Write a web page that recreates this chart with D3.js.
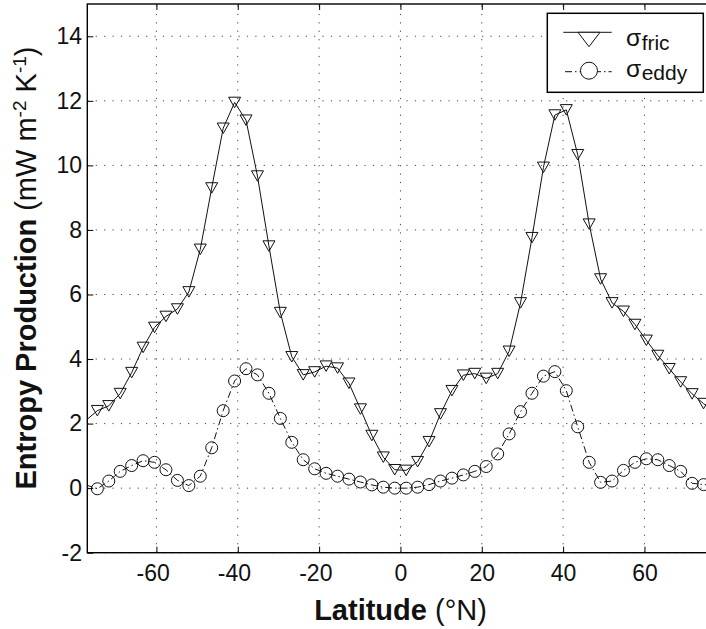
<!DOCTYPE html>
<html>
<head>
<meta charset="utf-8">
<script src="https://cdnjs.cloudflare.com/ajax/libs/d3/7.8.5/d3.min.js"></script>
<style>
  body { margin: 0; background: #fff; }
  svg { display: block; font-family: "Liberation Sans", Arial, Helvetica, sans-serif; }
</style>
</head>
<body>
<div id="chart"></div>
<script>
// latitude grid (deg N) and the two entropy production curves (mW m-2 K-1)
const lats = [-77.34, -74.53, -71.72, -68.91, -66.09, -63.28, -60.47, -57.66, -54.84, -52.03,
              -49.22, -46.41, -43.59, -40.78, -37.97, -35.16, -32.34, -29.53, -26.72, -23.91,
              -21.09, -18.28, -15.47, -12.66, -9.84, -7.03, -4.22, -1.41,
              1.41, 4.22, 7.03, 9.84, 12.66, 15.47, 18.28, 21.09, 23.91, 26.72,
              29.53, 32.34, 35.16, 37.97, 40.78, 43.59, 46.41, 49.22, 52.03, 54.84,
              57.66, 60.47, 63.28, 66.09, 68.91, 71.72, 74.53, 77.34];

const sigmaFric = [2.10, 2.40, 2.55, 2.93, 3.58, 4.36, 4.98, 5.32, 5.55, 6.08,
                   7.40, 9.30, 11.15, 11.95, 11.40, 9.67, 7.50, 5.44, 4.07, 3.51,
                   3.60, 3.78, 3.72, 3.25, 2.45, 1.63, 0.96, 0.57,
                   0.55, 0.82, 1.44, 2.30, 3.02, 3.50, 3.55, 3.40, 3.55, 4.24,
                   5.74, 7.76, 9.94, 11.56, 11.72, 10.33, 8.18, 6.48, 5.74, 5.48,
                   5.07, 4.58, 4.11, 3.70, 3.29, 2.92, 2.62, 2.35];

const sigmaEddy = [0.10, -0.02, 0.22, 0.52, 0.70, 0.85, 0.80, 0.57, 0.24, 0.08,
                   0.37, 1.25, 2.40, 3.32, 3.70, 3.51, 2.94, 2.16, 1.42, 0.88,
                   0.60, 0.46, 0.37, 0.28, 0.19, 0.10, 0.03, 0.00,
                   0.00, 0.03, 0.11, 0.22, 0.31, 0.41, 0.52, 0.67, 1.06, 1.68,
                   2.37, 2.94, 3.47, 3.61, 3.02, 1.90, 0.80, 0.18, 0.22, 0.55,
                   0.80, 0.91, 0.88, 0.70, 0.52, 0.15, 0.11, 0.10];

const xTicks = [-60, -40, -20, 0, 20, 40, 60];
const yTicks = [-2, 0, 2, 4, 6, 8, 10, 12, 14];
const seriesNames = ["fric", "eddy"];

let width = 706, height = 629;
const box = {left: 87.3, top: 4, right: 713.6, bottom: 552.7};

const x = d3.scaleLinear().domain([-77, 77]).range([box.left, box.right]);
const y = d3.scaleLinear().domain([-2, 15]).range([box.bottom, box.top]);

const fricData = lats.map((d, i) => ({lat: d, v: sigmaFric[i]}));
const eddyData = lats.map((d, i) => ({lat: d, v: sigmaEddy[i]}));
const inside = d => d.lat >= -77 && d.lat <= 77;

let svg = d3.select("#chart").append("svg")
    .attr("width", width)
    .attr("height", height);

svg.append("rect").attr("width", width).attr("height", height).attr("fill", "#fff");

svg.append("clipPath").attr("id", "plotclip")
  .append("rect")
    .attr("x", box.left).attr("y", box.top)
    .attr("width", box.right - box.left).attr("height", box.bottom - box.top);

// dotted grid
let grid = svg.append("g").attr("class", "grid")
    .attr("stroke", "#444").attr("stroke-width", 1).attr("stroke-dasharray", "1.2,7.2");
grid.selectAll(".gx").data(xTicks).enter().append("line")
    .attr("x1", d => x(d)).attr("x2", d => x(d))
    .attr("y1", box.bottom).attr("y2", box.top);
grid.selectAll(".gy").data(yTicks).enter().append("line")
    .attr("x1", box.left).attr("x2", box.right)
    .attr("y1", d => y(d)).attr("y2", d => y(d));

// data
let g_data = svg.append("g").attr("clip-path", "url(#plotclip)");
const line = d3.line().x(d => x(d.lat)).y(d => y(d.v));

g_data.append("path").datum(fricData)
    .attr("d", line).attr("fill", "none")
    .attr("stroke", "#111").attr("stroke-width", 1);

g_data.append("path").datum(eddyData)
    .attr("d", line).attr("fill", "none")
    .attr("stroke", "#111").attr("stroke-width", 1)
    .attr("stroke-dasharray", "7,3,1.5,3");

const tri = "M-6,-5.25L6,-5.25L0,5.25Z";
svg.append("g").selectAll("path").data(fricData.filter(inside)).enter().append("path")
    .attr("d", tri)
    .attr("transform", d => `translate(${x(d.lat)},${y(d.v)})`)
    .attr("fill", "none").attr("stroke", "#111").attr("stroke-width", 1);

svg.append("g").selectAll("circle").data(eddyData.filter(inside)).enter().append("circle")
    .attr("cx", d => x(d.lat)).attr("cy", d => y(d.v)).attr("r", 6)
    .attr("fill", "none").attr("stroke", "#111").attr("stroke-width", 1);

// axes, ticks inward
const fmt = d => d < 0 ? "-" + Math.abs(d) : String(d);

let xAxis = svg.append("g").attr("transform", `translate(0,${box.bottom})`)
    .call(d3.axisBottom(x).tickValues(xTicks).tickSize(-6).tickSizeOuter(0).tickPadding(11.7).tickFormat(fmt));
xAxis.selectAll("text").attr("x", d => d < 0 ? -3.8 : 0);

let yAxis = svg.append("g").attr("transform", `translate(${box.left},0)`)
    .call(d3.axisLeft(y).tickValues(yTicks).tickSize(-6).tickSizeOuter(0).tickPadding(5.3).tickFormat(fmt));

svg.append("g").attr("transform", `translate(0,${box.top})`)
    .call(d3.axisTop(x).tickValues(xTicks).tickSize(-6).tickSizeOuter(0).tickFormat(""));
svg.append("g").attr("transform", `translate(${box.right},0)`)
    .call(d3.axisRight(y).tickValues(yTicks).tickSize(-6).tickSizeOuter(0).tickFormat(""));

svg.selectAll(".domain").remove();
svg.selectAll(".tick line").attr("stroke", "#000").attr("stroke-width", 1);
svg.selectAll(".tick text")
    .attr("fill", "#111").style("font-size", "23px")
    .style("font-family", '"Liberation Sans", Arial, sans-serif');

svg.append("rect")
    .attr("x", box.left).attr("y", box.top)
    .attr("width", box.right - box.left).attr("height", box.bottom - box.top)
    .attr("fill", "none").attr("stroke", "#000").attr("stroke-width", 1.4);

// axis titles
let xt = svg.append("text")
    .attr("x", 400.5).attr("y", 620)
    .attr("text-anchor", "middle")
    .attr("fill", "#111").style("font-size", "29px");
xt.append("tspan").attr("font-weight", "bold").text("Latitude");
xt.append("tspan").text(" (°N)");

let yt = svg.append("text")
    .attr("transform", "translate(36,268) rotate(-90)")
    .attr("text-anchor", "middle")
    .attr("fill", "#111").style("font-size", "29px");
yt.append("tspan").attr("font-weight", "bold").text("Entropy Production");
yt.append("tspan").text(" (mW m");
yt.append("tspan").attr("dy", -10).style("font-size", "19px").text("-2");
yt.append("tspan").attr("dy", 10).text(" K");
yt.append("tspan").attr("dy", -10).style("font-size", "19px").text("-1");
yt.append("tspan").attr("dy", 10).text(")");

// legend
let lg = svg.append("g").attr("class", "legend");
lg.append("rect")
    .attr("x", 547.3).attr("y", 13.3).attr("width", 156).attr("height", 79)
    .attr("fill", "#fff").attr("stroke", "#000").attr("stroke-width", 1.5);

lg.append("line").attr("x1", 563.3).attr("x2", 611.7).attr("y1", 32.3).attr("y2", 32.3)
    .attr("stroke", "#111").attr("stroke-width", 1);
lg.append("path").attr("d", "M578,32.3L600,32.3L589,46.7Z")
    .attr("fill", "#fff").attr("stroke", "#111").attr("stroke-width", 1);

lg.append("line").attr("x1", 565).attr("x2", 611.7).attr("y1", 71.7).attr("y2", 71.7)
    .attr("stroke", "#111").attr("stroke-width", 1).attr("stroke-dasharray", "7,3,1.5,3");
lg.append("circle").attr("cx", 589).attr("cy", 70.7).attr("r", 8.5)
    .attr("fill", "#fff").attr("stroke", "#111").attr("stroke-width", 1);

// sigma + subscript labels, one row each
const rowY = [46.3, 77];
seriesNames.forEach((name, i) => {
    let t = lg.append("text").attr("x", 626).attr("y", rowY[i]).attr("fill", "#111");
    t.append("tspan").style("font-size", "24.5px").text("σ");
    t.append("tspan").attr("dx", 0.5).attr("dy", 3.3).style("font-size", "21px").text(name);
});
</script>
</body>
</html>
